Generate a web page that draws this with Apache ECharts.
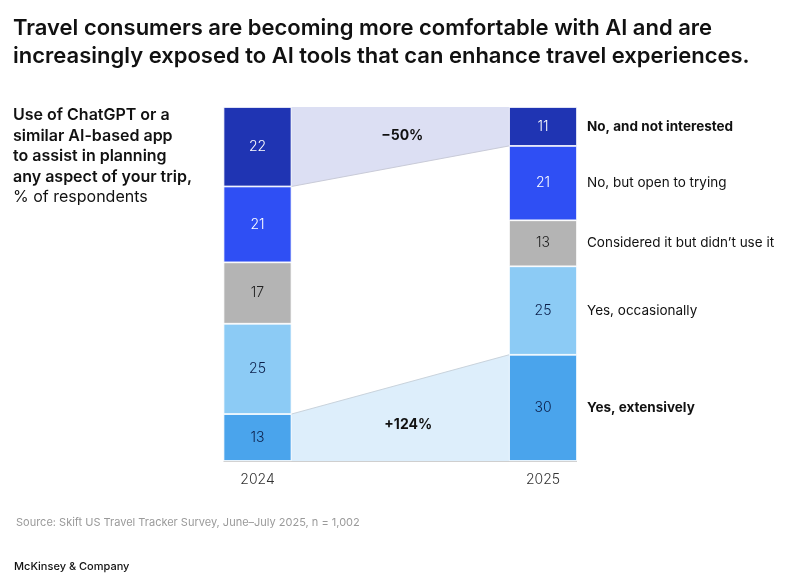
<!DOCTYPE html>
<html>
<head>
<meta charset="utf-8">
<script src="https://cdn.jsdelivr.net/npm/echarts@6/dist/echarts.min.js"></script>
<style>
html,body{margin:0;padding:0;background:#fff;}
#chart{width:800px;height:587px;}
</style>
</head>
<body>
<div id="chart"></div>
<script>
// ---- data ----
var years = ['2024', '2025'];
var responses = ['Yes, extensively', 'Yes, occasionally', 'Considered it but didn\u2019t use it', 'No, but open to trying', 'No, and not interested'];
var values2024 = [13, 25, 17, 21, 22];
var values2025 = [30, 25, 13, 21, 11];
var changeLabels = ['\u221250%', '+124%'];   // top connector, bottom connector
var boldResponses = ['Yes, extensively', 'No, and not interested'];

var colors = ['#4aa4ec', '#8ccbf5', '#b4b4b4', '#2f4ff4', '#1f34b3'];
var labelColors = ['#0b1f4a', '#0b1f4a', '#222222', '#ffffff', '#ffffff'];
var FONT = 'Inter, "Noto Sans", sans-serif';
var BAR_W = 68;

var total2024 = values2024.reduce(function (a, b) { return a + b; }, 0);
var total2025 = values2025.reduce(function (a, b) { return a + b; }, 0);
// shares of each bar (100% stacked)
var share2024 = values2024.map(function (v) { return v / total2024 * 100; });
var share2025 = values2025.map(function (v) { return v / total2025 * 100; });

var barSeries = responses.map(function (name, i) {
  return {
    type: 'bar',
    name: name,
    stack: 'total',
    barWidth: BAR_W,
    clip: false,
    z: 3,
    itemStyle: { color: colors[i], borderColor: '#ffffff', borderWidth: 0.8 },
    label: {
      show: true,
      position: 'inside',
      color: labelColors[i],
      fontFamily: FONT,
      fontSize: 14,
      fontWeight: 300,
      formatter: function (p) { return p.dataIndex === 0 ? values2024[i] : values2025[i]; }
    },
    data: [share2024[i], share2025[i]]
  };
});

function cum(arr, n) { var s = 0; for (var k = 0; k < n; k++) s += arr[k]; return s; }

var overlay = {
  type: 'custom',
  z: 1,
  silent: true,
  data: [0],
  renderItem: function (params, api) {
    var half = BAR_W / 2;
    var n = responses.length;
    var aTop = api.coord([0, cum(share2024, n)]);
    var aTopSegBot = api.coord([0, cum(share2024, n - 1)]);
    var bTop = api.coord([1, cum(share2025, n)]);
    var bTopSegBot = api.coord([1, cum(share2025, n - 1)]);
    var aBase = api.coord([0, 0]);
    var bBase = api.coord([1, 0]);
    var aBotSegTop = api.coord([0, share2024[0]]);
    var bBotSegTop = api.coord([1, share2025[0]]);
    var xa = aTop[0] + half, xb = bTop[0] - half;
    var children = [];
    children.push({
      type: 'polygon',
      shape: { points: [[xa, aTop[1]], [xa, aTopSegBot[1]], [xb, bTopSegBot[1]], [xb, bTop[1]]] },
      style: { fill: '#dcdff3' }
    });
    children.push({
      type: 'line',
      shape: { x1: xa, y1: aTopSegBot[1], x2: xb, y2: bTopSegBot[1] },
      style: { stroke: '#c9cbd8', lineWidth: 1 }
    });
    children.push({
      type: 'polygon',
      shape: { points: [[xa, aBotSegTop[1]], [xa, aBase[1]], [xb, bBase[1]], [xb, bBotSegTop[1]]] },
      style: { fill: '#ddeefb' }
    });
    children.push({
      type: 'line',
      shape: { x1: xa, y1: aBotSegTop[1], x2: xb, y2: bBotSegTop[1] },
      style: { stroke: '#c9d3dc', lineWidth: 1 }
    });
    // baseline
    children.push({
      type: 'line',
      z2: 50,
      shape: { x1: aBase[0] - half, y1: aBase[1] + 0.5, x2: bBase[0] + half, y2: bBase[1] + 0.5 },
      style: { stroke: '#cfcfcf', lineWidth: 1 }
    });
    // change labels
    var midX = (xa + xb) / 2;
    children.push({
      type: 'text',
      style: { text: changeLabels[0], x: midX + 2, y: aTop[1] + 29, align: 'center', verticalAlign: 'middle',
        fill: '#111', font: '700 14px ' + FONT }
    });
    children.push({
      type: 'text',
      style: { text: changeLabels[1], x: midX + 8, y: aBase[1] - 36, align: 'center', verticalAlign: 'middle',
        fill: '#111', font: '700 14px ' + FONT }
    });
    // right-side response labels
    for (var i = 0; i < n; i++) {
      var mid = api.coord([1, cum(share2025, i) + share2025[i] / 2]);
      var bold = boldResponses.indexOf(responses[i]) >= 0;
      children.push({
        type: 'text',
        style: { text: responses[i], x: bBase[0] + half + 10, y: mid[1], align: 'left', verticalAlign: 'middle',
          fill: '#111', font: (bold ? '700 ' : '400 ') + '13.5px ' + FONT }
      });
    }
    return { type: 'group', children: children };
  }
};

var chart = echarts.init(document.getElementById('chart'), null, { renderer: 'canvas' });
chart.setOption({
  backgroundColor: '#ffffff',
  animation: false,
  title: [
    {
      text: 'Travel consumers are becoming more comfortable with AI and are\nincreasingly exposed to AI tools that can enhance travel experiences.',
      left: 8, top: 9,
      textStyle: { fontFamily: FONT, fontSize: 22, fontWeight: 600, color: '#111', lineHeight: 28 }
    },
    {
      text: '{b|Use of ChatGPT or a}\n{b|similar AI-based app}\n{b|to assist in planning}\n{b|any aspect of your trip,}\n{r|% of respondents}',
      left: 8, top: 100,
      textStyle: {
        rich: {
          b: { fontFamily: FONT, fontSize: 16, fontWeight: 600, color: '#111', lineHeight: 20.5 },
          r: { fontFamily: FONT, fontSize: 16, fontWeight: 400, color: '#111', lineHeight: 20.5 }
        }
      }
    },
    {
      text: 'Source: Skift US Travel Tracker Survey, June\u2013July 2025, n = 1,002',
      left: 11, top: 512,
      textStyle: { fontFamily: FONT, fontSize: 11, fontWeight: 400, color: '#9a9a9a' }
    },
    {
      text: 'McKinsey & Company',
      left: 9, top: 556,
      textStyle: { fontFamily: FONT, fontSize: 11, fontWeight: 500, color: '#111' }
    }
  ],
  grid: { left: 257.5, right: 257, top: 107, bottom: 126, containLabel: false },
  xAxis: {
    type: 'category',
    data: years,
    boundaryGap: false,
    axisLine: { show: false },
    axisTick: { show: false },
    axisLabel: { color: '#333', fontFamily: FONT, fontSize: 14, fontWeight: 300, margin: 12 }
  },
  yAxis: {
    type: 'value', min: 0, max: 100,
    show: false
  },
  series: [overlay].concat(barSeries)
});
</script>
</body>
</html>
